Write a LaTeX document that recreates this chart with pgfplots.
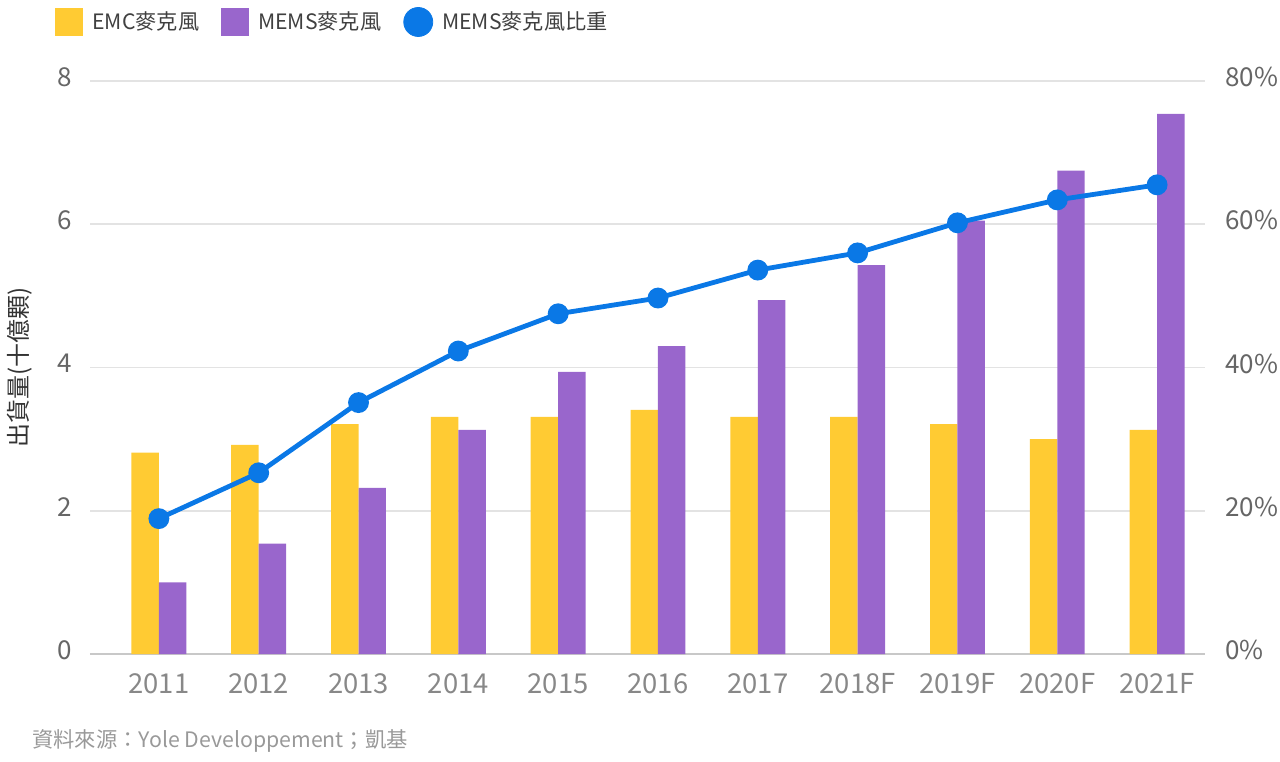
\documentclass[border=0pt]{standalone}
\usepackage{fontspec}
\setmainfont{Noto Sans CJK TC}
\usepackage{pgfplots}
\pgfplotsset{compat=1.18}
\definecolor{emc}{HTML}{FFCB33}
\definecolor{mems}{HTML}{9966CC}
\definecolor{ratio}{HTML}{0A78E6}
\definecolor{gridc}{HTML}{E3E3E3}
\definecolor{basec}{HTML}{C8C8C8}
\definecolor{tickc}{HTML}{666666}
\definecolor{xtickc}{HTML}{888888}
\definecolor{notec}{HTML}{999999}
\definecolor{labc}{HTML}{333333}
\definecolor{legc}{HTML}{404040}
\begin{document}
\begin{tikzpicture}
\path[use as bounding box] (-45bp,-54bp) rectangle (595bp,327bp);
\begin{axis}[
  width=557.5bp, height=286.5bp, scale only axis,
  xmin=-0.69, xmax=10.48, ymin=0, ymax=8,
  xtick={0,...,10},
  xticklabels={2011,2012,2013,2014,2015,2016,2017,2018F,2019F,2020F,2021F},
  ytick={0,2,4,6,8},
  extra y ticks={0}, extra y tick labels={},
  extra y tick style={major grid style={basec, line width=1bp}},
  ymajorgrids, major grid style={gridc, line width=0.8bp},
  axis line style={draw=none},
  major tick length=0pt,
  /pgf/number format/assume math mode=true,
  yticklabel style={font=\fontsize{13bp}{15bp}\selectfont, text=tickc, inner sep=0pt, anchor=east, xshift=-9bp, yshift=2bp},
  xticklabel style={font=\fontsize{13.7bp}{16bp}\selectfont, text=xtickc, inner sep=0pt, anchor=north, yshift=-9.5bp},
  ylabel={出貨量(十億顆)},
  ylabel style={at={(axis description cs:-0.0628,0.5)}, anchor=center, font=\fontsize{12bp}{14bp}\selectfont, text=labc},
  legend columns=-1,
  legend cell align=left,
  legend style={at={(axis description cs:-0.0314,1.103)}, anchor=west, draw=none, fill=none, inner sep=0pt,
    font=\fontsize{10.6bp}{13bp}\selectfont, text=legc, nodes={inner sep=0pt},
    /tikz/every odd column/.append style={column sep=4.5bp},
    /tikz/every even column/.append style={column sep=11bp}},
]
\addplot[ybar, fill=emc, draw=none, bar width=0.275, bar shift=-0.1375,
  legend image code/.code={\fill[emc] (0bp,-7bp) rectangle (14bp,7bp);}]
  coordinates {(0,2.81) (1,2.92) (2,3.21) (3,3.31) (4,3.31) (5,3.41) (6,3.31) (7,3.31) (8,3.21) (9,3.00) (10,3.13)};
\addlegendentry{EMC麥克風}
\addplot[ybar, fill=mems, draw=none, bar width=0.275, bar shift=0.1375,
  legend image code/.code={\fill[mems] (0bp,-7bp) rectangle (14bp,7bp);}]
  coordinates {(0,1.00) (1,1.54) (2,2.32) (3,3.13) (4,3.94) (5,4.30) (6,4.94) (7,5.43) (8,6.05) (9,6.75) (10,7.54)};
\addlegendentry{MEMS麥克風}
\addlegendimage{legend image code/.code={\fill[ratio] (7.25bp,0bp) circle (7.25bp);}}
\addlegendentry{MEMS麥克風比重}
\end{axis}
\begin{axis}[
  width=557.5bp, height=286.5bp, scale only axis,
  xmin=-0.69, xmax=10.48, ymin=0, ymax=80,
  hide x axis,
  axis y line*=right, y axis line style={draw=none},
  ytick={0,20,40,60,80},
  yticklabel={\pgfmathprintnumber{\tick}\%},
  major tick length=0pt,
  /pgf/number format/assume math mode=true,
  yticklabel style={font=\fontsize{13bp}{15bp}\selectfont, text=tickc, inner sep=0pt, anchor=west, xshift=10bp, yshift=2bp},
]
\addplot[ratio, line width=2.4bp, mark=*, mark size=4bp, mark options={fill=ratio, draw=none}]
  coordinates {(0,18.9) (1,25.3) (2,35.1) (3,42.3) (4,47.5) (5,49.7) (6,53.6) (7,56.0) (8,60.2) (9,63.4) (10,65.5)};
\end{axis}
\node[anchor=west, inner sep=0pt, font=\fontsize{10.65bp}{13bp}\selectfont, text=notec] at (-29bp,-43.5bp) {資料來源：Yole Developpement；凱基};
\end{tikzpicture}
\end{document}
